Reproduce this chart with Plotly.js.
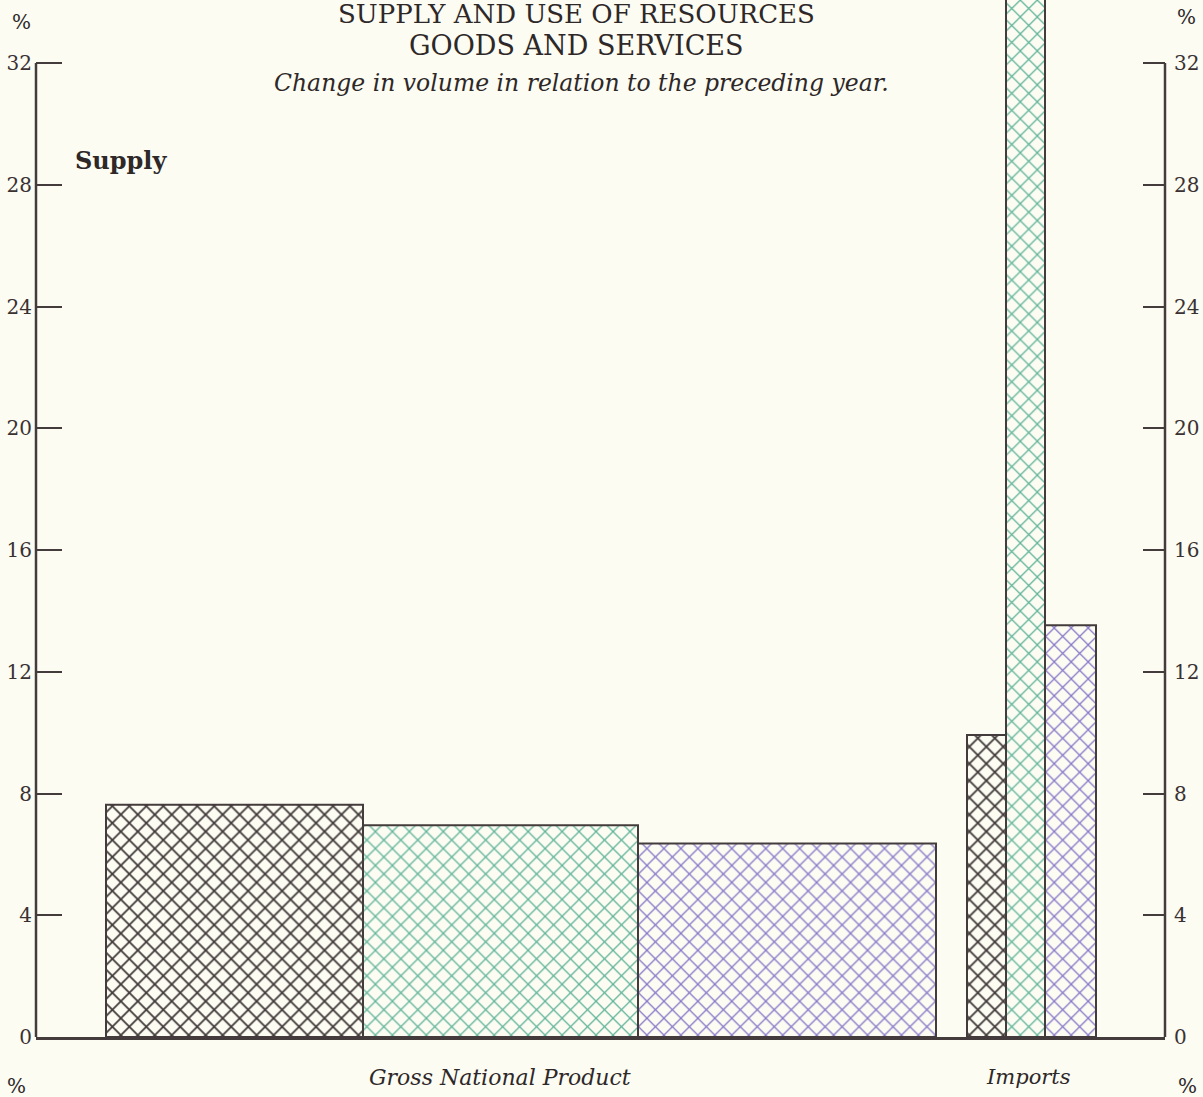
<!DOCTYPE html>
<html>
<head>
<meta charset="utf-8">
<script src="https://cdn.plot.ly/plotly-3.0.1.min.js"></script>
<style>
  body { margin: 0; background: #fcfcf3; }
  #chart { width: 1203px; height: 1097px; }
</style>
</head>
<body>
<div id="chart"></div>
<script>
// change in volume in relation to the preceding year, %
var groups = ["Gross National Product", "Imports"];
var seriesNames = ["A", "B", "C"];
var gnpValues = [7.63, 6.96, 6.36];
var importValues = [9.92, 35.5, 13.53];   // middle bar runs off the top of the sheet
var yTicks = [0, 4, 8, 12, 16, 20, 24, 28, 32];

// bar widths and group starts (x axis is in plot pixels, 0..1129)
var gnpStart = 70, gnpWidths = [257, 275, 298];
var impStart = 931, impWidths = [39, 39, 51];
var colors = ['#3f3838', '#62b49a', '#8878c8'];
var ink = '#443c3c';
var paperCol = '#fcfcf3';
var serif = '"DejaVu Serif", "Liberation Serif", serif';

function centers(start, widths) {
    var out = [], pos = start;
    for (var i = 0; i < widths.length; i++) {
        out.push(pos + widths[i] / 2);
        pos += widths[i];
    }
    return out;
}
var gnpX = centers(gnpStart, gnpWidths);
var impX = centers(impStart, impWidths);

var traces = [];
for (var i = 0; i < seriesNames.length; i++) {
    traces.push({
        type: 'bar',
        name: seriesNames[i],
        x: [gnpX[i], impX[i]],
        y: [gnpValues[i], importValues[i]],
        width: [gnpWidths[i], impWidths[i]],
        hoverinfo: 'y',
        marker: {
            color: paperCol,
            line: { color: ink, width: 2 },
            pattern: { shape: 'x', fgcolor: colors[i], fgopacity: 1, size: 12, solidity: i == 0 ? 0.27 : 0.2 }
        }
    });
}
// carrier for the right axis
traces.push({ type: 'scatter', x: [0], y: [0], yaxis: 'y2', mode: 'markers', marker: { opacity: 0 }, hoverinfo: 'skip', showlegend: false });

// plot runs to the top of the sheet so the tall bar is not cut; 32 sits at y=63
var L = 36, W = 1129, H = 1037, top32 = 63;
var yMax = 32 * H / (H - top32);
function px(x) { return (x - L) / W; }
function py(y) { return (H - y) / H; }
function label(text, x, y, size, extra) {
    var a = {
        text: text, xref: 'paper', yref: 'paper', x: px(x), y: py(y),
        xanchor: 'center', yanchor: 'middle', showarrow: false,
        font: { family: serif, size: size, color: '#2e2828' }
    };
    for (var k in extra) a[k] = extra[k];
    return a;
}

var axisBase = {
    range: [0, yMax], tickvals: yTicks, ticks: 'inside', tickwidth: 2, tickcolor: ink,
    showline: false, showgrid: false, zeroline: false,
    tickfont: { family: serif, size: 20, color: '#3a3232' }, fixedrange: true
};
var yaxis = Object.assign({}, axisBase, { ticklen: 26, ticklabelstandoff: 3 });
var yaxis2 = Object.assign({}, axisBase, { ticklen: 22, overlaying: 'y', side: 'right', ticklabelstandoff: 8 });

// the two vertical axis lines stop at 32
var axisLines = [0, 1].map(function (xp) {
    return { type: 'line', xref: 'paper', yref: 'paper', x0: xp, x1: xp, y0: 0, y1: 32 / yMax,
             line: { color: ink, width: 2.5 }, layer: 'above' };
});

var layout = {
    width: 1203, height: 1097,
    margin: { l: L, r: 1203 - L - W, t: 0, b: 1097 - H },
    paper_bgcolor: paperCol, plot_bgcolor: paperCol,
    showlegend: false, barmode: 'overlay',
    xaxis: {
        range: [0, W], showline: true, linewidth: 2.5, linecolor: ink,
        showticklabels: false, ticks: '', showgrid: false, zeroline: false, fixedrange: true
    },
    yaxis: yaxis,
    yaxis2: yaxis2,
    shapes: axisLines,
    annotations: [
        label('SUPPLY AND USE OF RESOURCES', 576, 14, 26),
        label('GOODS AND SERVICES', 576, 45, 27),
        label('<i>Change in volume in relation to the preceding year.</i>', 581, 83, 23.5),
        label('<b>Supply</b>', 121, 160, 24),
        label('<i>' + groups[0] + '</i>', 500, 1077, 22),
        label('<i>' + groups[1] + '</i>', 1028, 1077, 21),
        label('%', 21, 22, 20),
        label('%', 1186, 17, 20),
        label('%', 16, 1086, 20),
        label('%', 1187, 1086, 20)
    ]
};

Plotly.newPlot('chart', traces, layout, { displayModeBar: false, staticPlot: true });
</script>
</body>
</html>
